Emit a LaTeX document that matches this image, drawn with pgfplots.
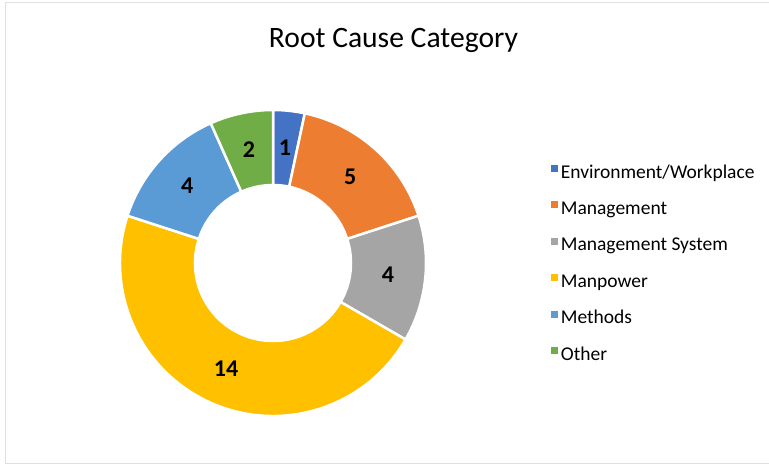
\documentclass[border=0pt]{standalone}
\usepackage{fontspec}
\setmainfont{Carlito}
\usepackage{pgfplots}
\usepackage{pgfplotstable}
\pgfplotsset{compat=1.18}
\definecolor{cEnv}{HTML}{4472C4}
\definecolor{cMgmt}{HTML}{ED7D31}
\definecolor{cMS}{HTML}{A5A5A5}
\definecolor{cMan}{HTML}{FFC000}
\definecolor{cMeth}{HTML}{5B9BD5}
\definecolor{cOth}{HTML}{70AD47}
\definecolor{frame}{HTML}{E0E0E0}
\pgfplotstableread[col sep=comma]{
category,value,color
Environment/Workplace,1,cEnv
Management,5,cMgmt
Management System,4,cMS
Manpower,14,cMan
Methods,4,cMeth
Other,2,cOth
}\donutdata
\begin{document}
\begin{tikzpicture}
\begin{axis}[
  x=1pt, y=1pt, xmin=0, xmax=769, ymin=0, ymax=466,
  axis lines=none, clip=false,
  legend image code/.code={\fill[#1] (0pt,2.5pt) rectangle (6pt,8.5pt);},
  legend style={at={(axis cs:551,301)}, anchor=north west, draw=none, fill=none,
    inner sep=0pt, outer sep=0pt, row sep=19.2pt, column sep=3.5pt,
    font=\fontsize{19.5}{22}\selectfont,
    nodes={inner sep=0pt, outer sep=0pt, text height=13pt, text depth=4pt}},
  legend cell align=left,
]
\draw[frame, line width=1pt] (axis cs:769,463) -- (axis cs:5,463) -- (axis cs:5,2) -- (axis cs:769,2);
\node[anchor=base, font=\fontsize{29.6}{34}\selectfont] at (axis cs:393.5,418) {Root Cause Category};
\pgfplotstablegetrowsof{\donutdata}
\pgfmathtruncatemacro\N{\pgfplotsretval-1}
\def\total{0}
\pgfplotsforeachungrouped \i in {0,...,\N}{%
  \pgfplotstablegetelem{\i}{value}\of\donutdata
  \pgfmathsetmacro\total{\total+\pgfplotsretval}%
}
\def\cum{0}
\pgfplotsforeachungrouped \i in {0,...,\N}{%
  \pgfplotstablegetelem{\i}{value}\of\donutdata \let\v\pgfplotsretval
  \pgfplotstablegetelem{\i}{color}\of\donutdata \let\c\pgfplotsretval
  \pgfplotstablegetelem{\i}{category}\of\donutdata \let\cat\pgfplotsretval
  \pgfmathsetmacro\a{90-\cum*360/\total}%
  \pgfmathsetmacro\b{90-(\cum+\v)*360/\total}%
  \pgfmathsetmacro\m{(\a+\b)/2}%
  \pgfmathtruncatemacro\vv{\v}%
  \edef\temp{%
    \noexpand\filldraw[fill=\c, draw=white, line width=2.5pt, line join=round]
      (axis cs:273,203) ++(\a:153pt) arc[start angle=\a, end angle=\b, radius=153pt]
      -- ++(\b:-75pt) arc[start angle=\b, end angle=\a, radius=78pt] -- cycle;
    \noexpand\path (axis cs:273,203) ++(\m:115.5pt)
      node[font=\noexpand\fontsize{24}{28}\noexpand\selectfont\noexpand\bfseries] {\vv};
    \noexpand\addlegendimage{\c}
    \noexpand\addlegendentry{\cat}
  }\temp
  \pgfmathsetmacro\cum{\cum+\v}%
}
\end{axis}
\pgfresetboundingbox
\path (current axis.south west) rectangle (current axis.north east);
\end{tikzpicture}
\end{document}
